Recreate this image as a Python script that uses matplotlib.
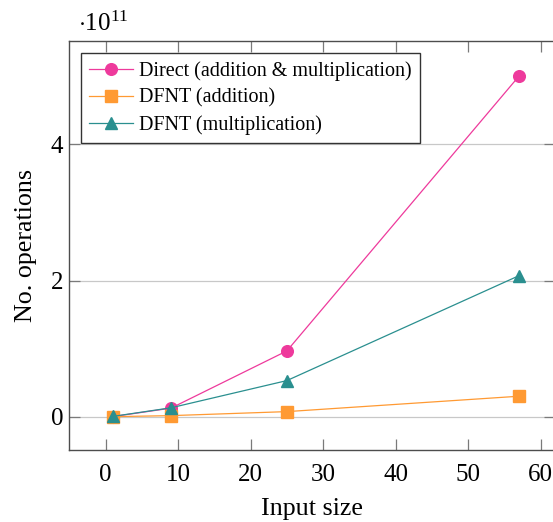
import matplotlib
matplotlib.use("Agg")
import matplotlib.pyplot as plt
import numpy as np
from matplotlib.ticker import FuncFormatter

plt.rcParams["font.family"] = ["Liberation Serif", "DejaVu Serif"]
plt.rcParams["mathtext.fontset"] = "custom"
plt.rcParams["mathtext.rm"] = "Liberation Serif"
plt.rcParams["mathtext.it"] = "Liberation Serif:italic"

# input sizes and operation counts
input_size = [1, 9, 25, 57]
direct_ops = [0.0015e11, 0.125e11, 0.966e11, 5.0e11]
dfnt_add = [0.0, 0.015e11, 0.074e11, 0.30e11]
dfnt_mult = [0.004e11, 0.13e11, 0.53e11, 2.07e11]
labels = ["Direct (addition & multiplication)", "DFNT (addition)", "DFNT (multiplication)"]

pink = "#ee3a9c"
orange = "#ff9a33"
teal = "#2a8f8f"
frame = "#4d4d4d"

fig = plt.figure(figsize=(5.53, 5.22), dpi=100)
ax = fig.add_axes([69 / 553, 1 - 450 / 522, 486 / 553, 409 / 522])

ax.plot(input_size, direct_ops, color=pink, lw=0.9, marker="o", ms=8.4, mec=pink, label=labels[0])
ax.plot(input_size, dfnt_add, color=orange, lw=0.9, marker="s", ms=8, mec=orange, label=labels[1])
ax.plot(input_size, dfnt_mult, color=teal, lw=0.9, marker="^", ms=8.2, mec=teal, label=labels[2])

ax.set_xlim(-5.07, 62.0)
ax.set_ylim(-0.49e11, 5.52e11)
ax.set_xticks([0, 10, 20, 30, 40, 50, 60])
ax.set_yticks([0, 2e11, 4e11])
ax.yaxis.set_major_formatter(FuncFormatter(lambda v, p: "%g" % (v / 1e11)))
ax.grid(axis="y", color="#c8c8c8", lw=0.9)
ax.set_axisbelow(True)

ax.tick_params(direction="in", length=8, width=0.9, color="#7a7a7a",
               labelsize=18, top=True, right=True)
ax.tick_params(axis="x", pad=10)
ax.tick_params(axis="y", pad=4)
for s in ax.spines.values():
    s.set_color(frame)
    s.set_linewidth(1.0)

ax.set_xlabel("Input size", fontsize=18.7, labelpad=9)
ax.set_ylabel("No. operations", fontsize=18.7, labelpad=10)
fig.text(78 / 553, 1 - 31 / 522, r"$\cdot 10^{11}$", fontsize=18)

leg = ax.legend(loc="upper left", bbox_to_anchor=(0, 1), borderaxespad=0.6,
                fontsize=14.5, fancybox=False, framealpha=1, edgecolor="#333333",
                handlelength=2.2, handletextpad=0.3, labelspacing=0.38, borderpad=0.4)
leg.get_frame().set_linewidth(1.0)

fig.savefig("out.png", dpi=100)
